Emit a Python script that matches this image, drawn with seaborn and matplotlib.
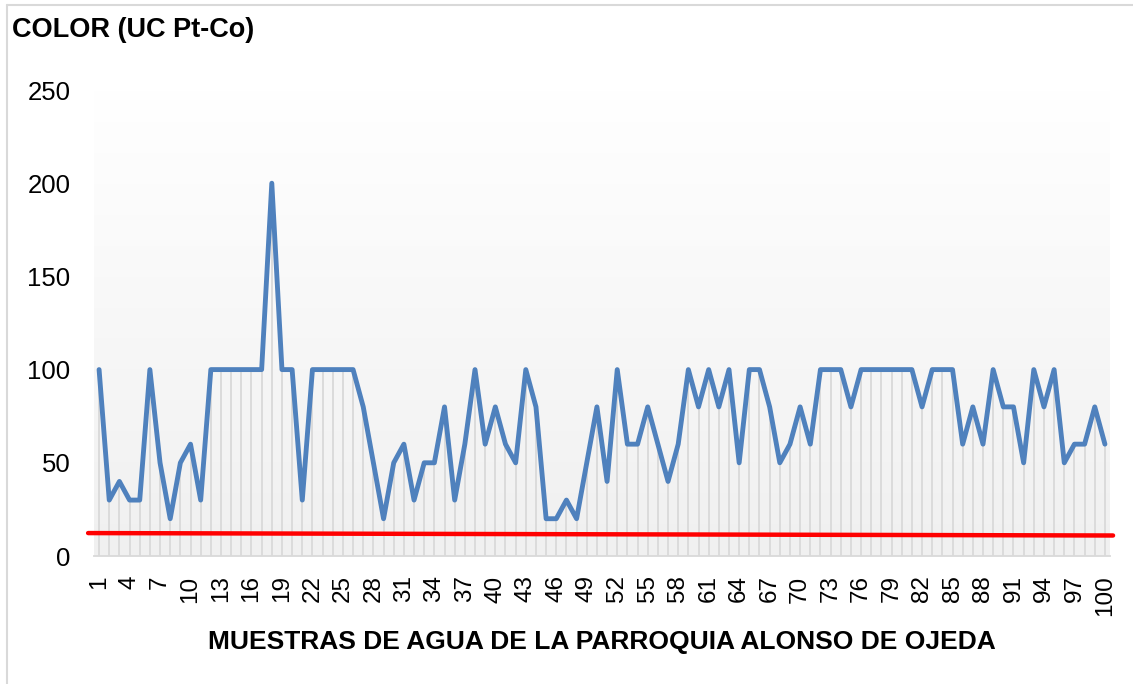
import numpy as np
import pandas as pd
import seaborn as sns
import matplotlib.pyplot as plt
from matplotlib.colors import LinearSegmentedColormap
from matplotlib.lines import Line2D

# %% Data

muestras = list(range(1, 101))
color_uc = [100, 30, 40, 30, 30, 100, 50, 20, 50, 60,
            30, 100, 100, 100, 100, 100, 100, 200, 100, 100,
            30, 100, 100, 100, 100, 100, 80, 50, 20, 50,
            60, 30, 50, 50, 80, 30, 60, 100, 60, 80,
            60, 50, 100, 80, 20, 20, 30, 20, 50, 80,
            40, 100, 60, 60, 80, 60, 40, 60, 100, 80,
            100, 80, 100, 50, 100, 100, 80, 50, 60, 80,
            60, 100, 100, 100, 80, 100, 100, 100, 100, 100,
            100, 80, 100, 100, 100, 60, 80, 60, 100, 80,
            80, 50, 100, 80, 100, 50, 60, 60, 80, 60]
tick_labels = [str(m) for m in muestras[::3]]
# red reference line (slightly tilted in the original)
limite_x = [-0.08, 100.8]
limite_y = [12.3, 11.0]

df = pd.DataFrame({"muestra": muestras, "color": color_uc})

# %% Plot

sns.set_style("white")
plt.rcParams['font.family'] = ['Liberation Sans', 'DejaVu Sans']
plt.rcParams['text.color'] = 'black'
plt.rcParams['xtick.color'] = 'black'
plt.rcParams['ytick.color'] = 'black'
plt.rcParams['axes.labelcolor'] = 'black'

fig = plt.figure(figsize=(11.33, 6.84), dpi=100)
ax = fig.add_axes([94 / 1133, 128 / 684, 1016 / 1133, 466 / 684])

# background gradient of the plot area: white on top, light grey at the bottom
grad = LinearSegmentedColormap.from_list("bg", ["#ffffff", "#f0f0f0"])
ax.imshow(np.linspace(0, 1, 256).reshape(-1, 1), cmap=grad, aspect="auto",
          origin="upper", extent=[0.5, 100.5, 0, 250], zorder=0)

# drop lines
ax.vlines(df["muestra"], 0, df["color"], color="#d9d9d9", linewidth=1.3, zorder=1)

sns.lineplot(data=df, x="muestra", y="color", color="#4f81bd", linewidth=3.5,
             ax=ax, zorder=3)

ax.plot(limite_x, limite_y, color="#ff0000", linewidth=3.2, clip_on=False, zorder=4)

ax.set_xlim(0.5, 100.5)
ax.set_ylim(0, 250)
ax.set_yticks([0, 50, 100, 150, 200, 250])
ax.set_xticks(muestras[::3])
ax.set_xticklabels(tick_labels, rotation=90)
ax.tick_params(axis="y", labelsize=18.5, pad=17, length=0)
ax.tick_params(axis="x", labelsize=17.5, pad=14, length=0)

for s in ["top", "right", "left"]:
    ax.spines[s].set_visible(False)
ax.spines["bottom"].set_color("#d9d9d9")
ax.spines["bottom"].set_linewidth(1.3)

ax.set_xlabel("MUESTRAS DE AGUA DE LA PARROQUIA ALONSO DE OJEDA",
              fontsize=19, fontweight="bold", labelpad=10)
ax.set_ylabel("")
fig.text(12 / 1133, 1 - 30 / 684, "COLOR (UC Pt-Co)", fontsize=19.5,
         fontweight="bold", va="center", ha="left")

# chart frame (only top and left visible)
fig.add_artist(Line2D([7 / 1133, 7 / 1133], [0, 1 - 5 / 684], color="#d9d9d9", linewidth=1.5))
fig.add_artist(Line2D([7 / 1133, 1], [1 - 5 / 684, 1 - 5 / 684], color="#d9d9d9", linewidth=1.5))

plt.savefig("out.png", dpi=100)
